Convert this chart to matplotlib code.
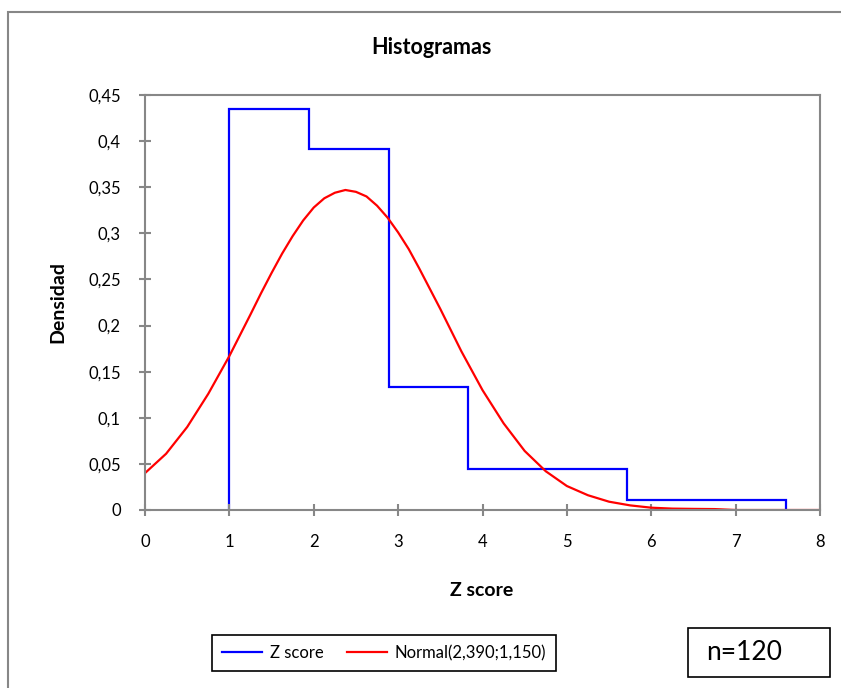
import matplotlib
matplotlib.use("Agg")
import matplotlib.pyplot as plt
from matplotlib.patches import Rectangle
from matplotlib.lines import Line2D

plt.rcParams['font.family'] = ['Lato', 'DejaVu Sans']

# Histogram (density) data
bin_edges = [1.0, 1.943, 2.886, 3.829, 4.771, 5.714, 6.657, 7.6]
densities = [0.435, 0.391, 0.133, 0.044, 0.044, 0.011, 0.011]

# Normal curve
curve_x = [0.0, 0.25, 0.5, 0.75, 1.0, 1.25, 1.375, 1.5, 1.625, 1.75, 1.875,
           2.0, 2.125, 2.25, 2.375, 2.5, 2.625, 2.75, 2.875, 3.0, 3.125,
           3.25, 3.375, 3.5, 3.75, 4.0, 4.25, 4.5, 4.75, 5.0, 5.25, 5.5, 5.75,
           6.0, 6.25, 6.5, 6.75, 7.0, 7.25, 7.5, 7.75, 8.0]
curve_y = [0.040, 0.061, 0.090, 0.126, 0.167, 0.212, 0.235, 0.257, 0.278,
           0.297, 0.314, 0.328, 0.338, 0.344, 0.347, 0.345, 0.340, 0.330,
           0.317, 0.301, 0.283, 0.262, 0.240, 0.218, 0.172, 0.130, 0.094,
           0.064, 0.042, 0.026, 0.016, 0.009, 0.005, 0.0025, 0.0015, 0.0012,
           0.001, 0.0, 0.0, 0.0, 0.0, 0.0]

x_ticks = [0, 1, 2, 3, 4, 5, 6, 7, 8]
y_ticks = [0, 0.05, 0.1, 0.15, 0.2, 0.25, 0.3, 0.35, 0.4, 0.45]
y_tick_labels = ["0", "0,05", "0,1", "0,15", "0,2", "0,25", "0,3", "0,35", "0,4", "0,45"]

W, H = 841, 688
fig = plt.figure(figsize=(W / 100, H / 100), dpi=100)

gray = "#878787"
# outer chart border
fig.patches.append(Rectangle((8 / W, -0.05), 1.2, 1 - 12 / H + 0.05,
                             transform=fig.transFigure, fill=False,
                             edgecolor=gray, linewidth=1.5))

ax = fig.add_axes([145 / W, 1 - 510 / H, (820 - 145) / W, (510 - 95) / H])
ax.stairs(densities, bin_edges, color="#0000ff", linewidth=1.6, baseline=0)
ax.plot(curve_x, curve_y, color="#ff0000", linewidth=1.6)

ax.set_xlim(0, 8)
ax.set_ylim(0, 0.45)
ax.set_xticks(x_ticks)
ax.set_yticks(y_ticks)
ax.set_yticklabels(y_tick_labels)
for s in ax.spines.values():
    s.set_color(gray)
    s.set_linewidth(1.5)
ax.tick_params(direction="inout", length=9, width=1.5, color=gray,
               labelsize=12, labelcolor="black")
ax.tick_params(axis="x", pad=13)
ax.tick_params(axis="y", pad=13)

fig.text(431 / W, 1 - 48 / H, "Histogramas", ha="center", va="center",
         fontsize=15.5, fontweight="bold")
fig.text(482 / W, 1 - 590 / H, "Z score", ha="center", va="center",
         fontsize=14, fontweight="bold")
fig.text(58 / W, 1 - 302 / H, "Densidad", ha="center", va="center",
         fontsize=14, fontweight="bold", rotation=90)

# legend
handles = [Line2D([], [], color="#0000ff", linewidth=1.6),
           Line2D([], [], color="#ff0000", linewidth=1.6)]
leg = fig.legend(handles, ["Z score", "Normal(2,390;1,150)"], ncol=2,
                 loc="center", bbox_to_anchor=(384 / W, 1 - 653 / H),
                 fancybox=False, edgecolor="black", fontsize=12,
                 handlelength=2.4, columnspacing=1.4, handletextpad=0.45,
                 borderpad=0.6, borderaxespad=0, framealpha=1)
leg.get_frame().set_linewidth(1.2)

# n box
fig.patches.append(Rectangle((688 / W, 1 - 677 / H), (830 - 688) / W, 49 / H,
                             transform=fig.transFigure, fill=False,
                             edgecolor="black", linewidth=1.2))
fig.text(706 / W, 1 - 653 / H, "n=120", ha="left", va="center", fontsize=19)

fig.savefig("out.png", dpi=100)
